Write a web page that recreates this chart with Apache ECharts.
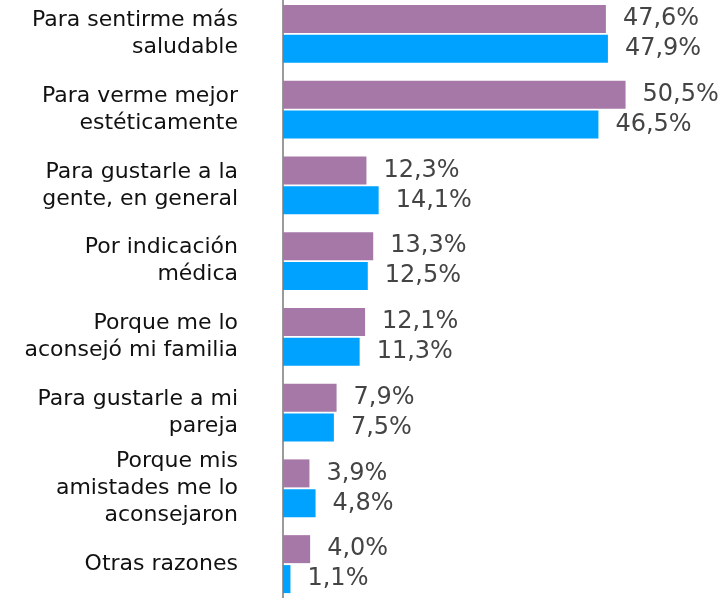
<!DOCTYPE html>
<html>
<head>
<meta charset="utf-8">
<script src="https://cdn.jsdelivr.net/npm/echarts@6/dist/echarts.min.js"></script>
<style>
  html, body { margin: 0; padding: 0; background: #fff; overflow: hidden; }
  #chart { position: relative; top: -4px; width: 728px; height: 606px; }
</style>
</head>
<body>
<div id="chart"></div>
<script>
const categories = [
  'Para sentirme más\nsaludable',
  'Para verme mejor\nestéticamente',
  'Para gustarle a la\ngente, en general',
  'Por indicación\nmédica',
  'Porque me lo\naconsejó mi familia',
  'Para gustarle a mi\npareja',
  'Porque mis\namistades me lo\naconsejaron',
  'Otras razones'
];
const seriesA = [47.6, 50.5, 12.3, 13.3, 12.1, 7.9, 3.9, 4.0];
const seriesB = [47.9, 46.5, 14.1, 12.5, 11.3, 7.5, 4.8, 1.1];

const fmt = p => p.value.toFixed(1).replace('.', ',') + '%';

const chart = echarts.init(document.getElementById('chart'));

const valueLabel = {
  show: true,
  position: 'right',
  distance: 17,
  formatter: fmt,
  color: '#444',
  fontSize: 24,
  fontFamily: 'DejaVu Sans'
};

chart.setOption({
  animation: false,
  grid: { left: 283, right: 38, top: 0, bottom: 0 },
  xAxis: {
    type: 'value',
    min: 0,
    max: 60,
    show: false
  },
  yAxis: {
    type: 'category',
    data: categories,
    inverse: true,
    axisLine: { show: true, lineStyle: { color: '#9a9a9a', width: 2 } },
    axisTick: { show: false },
    axisLabel: {
      margin: 45,
      color: '#111',
      fontSize: 22,
      lineHeight: 27,
      fontFamily: 'DejaVu Sans',
      align: 'right'
    }
  },
  series: [
    {
      type: 'bar',
      data: seriesA,
      itemStyle: { color: '#a678a8' },
      barWidth: 28,
      barGap: '7%',
      label: valueLabel
    },
    {
      type: 'bar',
      data: seriesB,
      itemStyle: { color: '#00a2ff' },
      barWidth: 28,
      label: valueLabel
    }
  ]
});
</script>
</body>
</html>
